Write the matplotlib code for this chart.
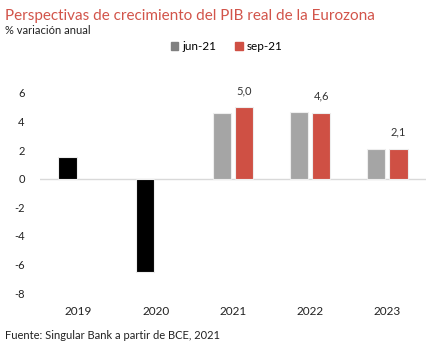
import matplotlib
matplotlib.use("Agg")
import matplotlib.pyplot as plt
from matplotlib.patches import Patch
import numpy as np

plt.rcParams['font.family'] = ['Lato', 'DejaVu Sans']

years = ["2019", "2020", "2021", "2022", "2023"]
jun21 = [1.5, -6.5, 4.6, 4.7, 2.1]
sep21 = [np.nan, np.nan, 5.0, 4.6, 2.1]
sep21_labels = ["", "", "5,0", "4,6", "2,1"]
yticks = [-8, -6, -4, -2, 0, 2, 4, 6]

GRAY = "#A5A5A5"
RED = "#CF5044"
TITLE_RED = "#D2544A"

fig = plt.figure(figsize=(4.45, 3.52), dpi=100)
ax = fig.add_axes([0.09, 0.1676, 0.867, 0.5682])

x = np.arange(len(years))
w = 0.235
# historical years drawn in black
jun_colors = ["black" if int(y) < 2021 else GRAY for y in years]
ax.bar(x - 0.145, jun21, w, color=jun_colors, edgecolor="#EEEEEE",
       linewidth=0.8, zorder=2)
ax.bar(x + 0.145, sep21, w, color=RED, edgecolor="#EEEEEE",
       linewidth=0.8, zorder=2)
for xi, v, lab in zip(x, sep21, sep21_labels):
    if lab:
        ax.annotate(lab, (xi + 0.145, v), xytext=(0, 8),
                    textcoords="offset points", ha="center", va="bottom",
                    fontsize=8, color="#333333", annotation_clip=False)

ax.axhline(0, color="#D9D9D9", linewidth=1, zorder=1)
ax.set_xlim(-0.5, len(years) - 0.5)
ax.set_ylim(-8, 6)
ax.set_yticks(yticks)
ax.set_yticklabels([str(t) for t in yticks], fontsize=8, color="#222222")
ax.set_xticks(x)
ax.set_xticklabels(years, fontsize=8.5, color="#222222")
ax.tick_params(axis="y", length=0, pad=11)
ax.tick_params(axis="x", length=0, pad=9)
for s in ax.spines.values():
    s.set_visible(False)

fig.text(0.012, 0.955, "Perspectivas de crecimiento del PIB real de la Eurozona",
         fontsize=11, color=TITLE_RED, va="center")
fig.text(0.012, 0.912, "% variación anual", fontsize=8, color="#222222",
         va="center")
fig.text(0.012, 0.048, "Fuente: Singular Bank a partir de BCE, 2021",
         fontsize=8, color="#222222", va="center")

handles = [Patch(color="#7F7F7F", label="jun-21"), Patch(color=RED, label="sep-21")]
fig.legend(handles=handles, loc="center", bbox_to_anchor=(0.51, 0.867),
           ncol=2, frameon=False, fontsize=8.5, handlelength=0.6,
           handleheight=0.6, handletextpad=0.35, columnspacing=1.6)

fig.savefig("out.png", dpi=100)
